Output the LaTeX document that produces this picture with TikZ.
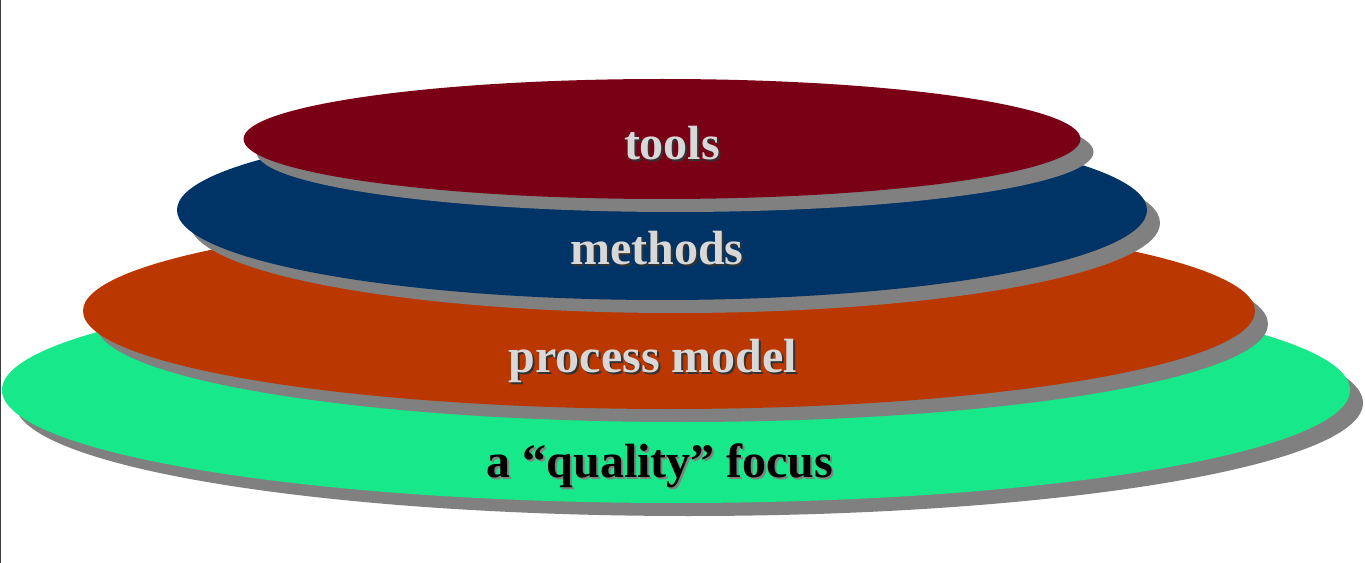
\documentclass[tikz,border=0pt]{standalone}
\usepackage{fontspec}
\setmainfont{Liberation Serif}
\usetikzlibrary{shapes.geometric}
\definecolor{greenc}{RGB}{23,232,138}
\definecolor{orangec}{RGB}{187,55,0}
\definecolor{bluec}{RGB}{0,51,102}
\definecolor{redc}{RGB}{122,0,22}
\definecolor{shadowc}{RGB}{128,128,128}
\definecolor{lighttext}{RGB}{216,216,216}
\definecolor{edgec}{RGB}{60,64,67}
\tikzset{
  layer/.style={ellipse, inner sep=0pt, draw=none},
  shadowlayer/.style={layer, fill=shadowc},
  lbl/.style={anchor=base, inner sep=0pt, font=\bfseries\fontsize{36}{40}\selectfont},
  lightlbl/.style={lbl, text=lighttext},
  lightshadow/.style={lbl, text=black!80},
  darklbl/.style={lbl, text=black},
  darkshadow/.style={lbl, text=shadowc},
}
\begin{document}
\begin{tikzpicture}[x=0.75pt,y=-0.75pt]
\useasboundingbox (0,0) rectangle (1365,563);
\fill[white] (0,0) rectangle (1365,563);
\draw[edgec, line width=1.2pt] (0.6,0) -- (0.6,563);
% green
\node[shadowlayer, minimum width=1011pt, minimum height=169.5pt] (gs) at (689,403) {};
\node[layer, fill=greenc, minimum width=1011pt, minimum height=169.5pt] (g) at (676,390) {};
% orange
\node[shadowlayer, minimum width=879pt, minimum height=147pt] (os) at (682,324) {};
\node[layer, fill=orangec, minimum width=879pt, minimum height=147pt] (o) at (669,311) {};
% blue
\node[shadowlayer, minimum width=727.5pt, minimum height=135pt] (bs) at (675,223) {};
\node[layer, fill=bluec, minimum width=727.5pt, minimum height=135pt] (b) at (662,210) {};
% red
\node[shadowlayer, minimum width=627.75pt, minimum height=90pt] (rs) at (675,152) {};
\node[layer, fill=redc, minimum width=627.75pt, minimum height=90pt] (r) at (662,139) {};
% labels
\node[lightshadow] (t1s) at (674,162) {tools};
\node[lightlbl] (t1) at (672,160) {tools};
\node[lightshadow] (t2s) at (659,267) {methods};
\node[lightlbl] (t2) at (657,265) {methods};
\node[lightshadow] (t3s) at (655,374) {process model};
\node[lightlbl] (t3) at (653,372) {process model};
\node[darkshadow] (t4s) at (662,479) {a “quality” focus};
\node[darklbl] (t4) at (660,477) {a “quality” focus};
\end{tikzpicture}
\end{document}
